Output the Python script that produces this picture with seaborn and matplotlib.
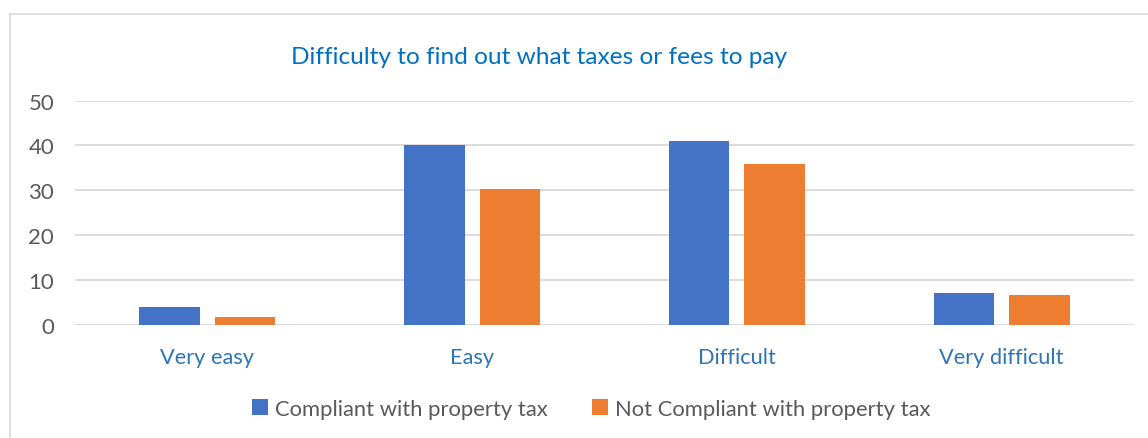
import matplotlib
matplotlib.use("Agg")
import matplotlib.pyplot as plt
from matplotlib.lines import Line2D
from matplotlib.patches import Patch
import pandas as pd
import seaborn as sns

categories = ["Very easy", "Easy", "Difficult", "Very difficult"]
series_names = ["Compliant with property tax", "Not Compliant with property tax"]
compliant = [3.9, 40.2, 40.9, 7.0]
not_compliant = [1.7, 30.2, 35.9, 6.6]
y_ticks = [0, 10, 20, 30, 40, 50]
title = "Difficulty to find out what taxes or fees to pay"

colors = ["#4472C4", "#ED7D31"]
text_gray = "#595959"
title_blue = "#0070C0"
label_blue = "#2E75B6"

df = pd.DataFrame({
    "category": categories * 2,
    "series": [series_names[0]] * 4 + [series_names[1]] * 4,
    "value": compliant + not_compliant,
})

sns.set_theme(style="white")
plt.rcParams["font.family"] = ["Lato", "DejaVu Sans"]

W, H = 1148, 439
fig = plt.figure(figsize=(W / 100, H / 100), dpi=100)
ax = fig.add_axes([75 / W, 1 - 325.7 / H, (1134 - 75) / W, (325.7 - 101.7) / H])

sns.barplot(data=df, x="category", y="value", hue="series", order=categories,
            hue_order=series_names, palette=colors, width=0.57, gap=0.2,
            saturation=1, ax=ax, legend=False, linewidth=0)

ax.set_ylim(0, 50)
ax.set_xlim(-0.5, 3.5)
ax.set_yticks(y_ticks)
ax.set_yticklabels([str(t) for t in y_ticks])
ax.yaxis.grid(True, color="#D9D9D9", linewidth=1.3)
ax.set_axisbelow(True)
for s in ax.spines.values():
    s.set_visible(False)
ax.set_xlabel("")
ax.set_ylabel("")
ax.tick_params(axis="y", length=0, pad=15, labelsize=16, labelcolor=text_gray)
ax.tick_params(axis="x", length=0, pad=16, labelsize=15.7, labelcolor=label_blue)

fig.text(539 / W, 1 - 57 / H, title, ha="center", va="center",
         fontsize=17.6, color=title_blue)

handles = [Patch(facecolor=c, edgecolor="none") for c in colors]
fig.legend(handles, series_names, loc="center", bbox_to_anchor=(591 / W, 1 - 410 / H),
           ncol=2, frameon=False, fontsize=15.8, labelcolor=text_gray,
           handlelength=0.75, handleheight=0.75, handletextpad=0.3, columnspacing=2.0)

# chart frame
fig.add_artist(Line2D([10 / W, 10 / W], [0, 1 - 15 / H], transform=fig.transFigure,
                      color="#D9D9D9", linewidth=1.2))
fig.add_artist(Line2D([10 / W, 1], [1 - 15 / H, 1 - 15 / H], transform=fig.transFigure,
                      color="#D9D9D9", linewidth=1.2))

fig.savefig("out.png", dpi=100, facecolor="white")
